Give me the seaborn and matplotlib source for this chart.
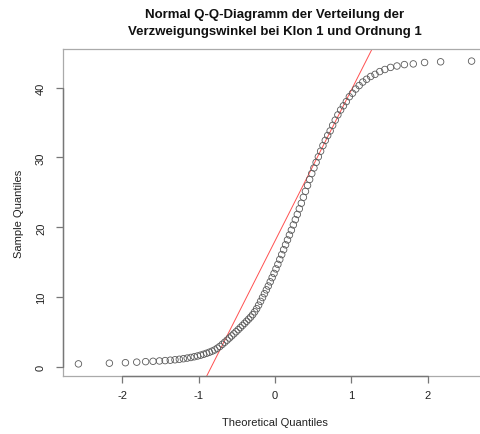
import statistics
import numpy as np
import pandas as pd
import matplotlib
matplotlib.use("Agg")
import matplotlib.pyplot as plt
import seaborn as sns

# ---- data (sample quantiles, sorted) ----
sample_values = [
    0.45, 0.55, 0.62, 0.70, 0.77, 0.82, 0.87, 0.92, 0.98, 1.04,
    1.11, 1.19, 1.28, 1.37, 1.47, 1.58, 1.70, 1.83, 1.97, 2.12,
    2.28, 2.45, 2.70, 2.95, 3.25, 3.55, 3.85, 4.15, 4.45, 4.75,
    5.05, 5.35, 5.65, 5.95, 6.25, 6.55, 6.85, 7.15, 7.50, 7.90,
    8.35, 8.85, 9.40, 9.95, 10.5, 11.05, 11.6, 12.2, 12.8, 13.4,
    14.05, 14.7, 15.4, 16.1, 16.8, 17.5, 18.2, 18.9, 19.6, 20.35,
    21.1, 21.85, 22.65, 23.45, 24.3, 25.15, 26.0, 26.85, 27.7, 28.5,
    29.3, 30.1, 30.9, 31.7, 32.45, 33.15, 33.8, 34.6, 35.35, 36.1,
    36.8, 37.4, 38.0, 38.7, 39.2, 39.8, 40.3, 40.8, 41.2, 41.6,
    41.9, 42.3, 42.6, 42.9, 43.1, 43.3, 43.4, 43.6, 43.7, 43.8,
]
x_ticks = [-2, -1, 0, 1, 2]
y_ticks = [0, 10, 20, 30, 40]
title = "Normal Q-Q-Diagramm der Verteilung der\nVerzweigungswinkel bei Klon 1 und Ordnung 1"
x_label = "Theoretical Quantiles"
y_label = "Sample Quantiles"

# ---- Q-Q computation (like R's qqnorm / qqline) ----
n = len(sample_values)
nd = statistics.NormalDist()
theo = [nd.inv_cdf((i + 0.5) / n) for i in range(n)]
df = pd.DataFrame({"theoretical": theo, "sample": sorted(sample_values)})
q1, q3 = np.quantile(df["sample"], [0.25, 0.75])
z1, z3 = nd.inv_cdf(0.25), nd.inv_cdf(0.75)
slope = (q3 - q1) / (z3 - z1)
intercept = q1 - slope * z1

# ---- plot ----
sns.set_theme(style="white")
plt.rcParams["font.family"] = ["Liberation Sans", "DejaVu Sans"]

fig = plt.figure(figsize=(4.8, 4.35), dpi=100)
ax = fig.add_axes([62.7 / 480, 58 / 435, (487.3 - 62.7) / 480, 327 / 435])

sns.scatterplot(data=df, x="theoretical", y="sample", ax=ax,
                marker="o", s=22, facecolor="none", edgecolor="#5a5a5a",
                linewidth=0.6, zorder=3)

xr = df["theoretical"].max() - df["theoretical"].min()
yr = df["sample"].max() - df["sample"].min()
ax.set_xlim(df["theoretical"].min() - 0.04 * xr, df["theoretical"].max() + 0.04 * xr)
ax.set_ylim(df["sample"].min() - 0.04 * yr, df["sample"].max() + 0.04 * yr)

ax.axline((0, intercept), slope=slope, color="#ff5050", linewidth=0.7, zorder=2)

for sp in ax.spines.values():
    sp.set_color("#aaaaaa")
    sp.set_linewidth(0.9)

# R-style axis lines spanning first to last tick
ax.plot([x_ticks[0], x_ticks[-1]], [ax.get_ylim()[0]] * 2, color="#777777",
        linewidth=1.0, clip_on=False, zorder=4)
ax.plot([ax.get_xlim()[0]] * 2, [y_ticks[0], y_ticks[-1]], color="#777777",
        linewidth=1.0, clip_on=False, zorder=4)

ax.set_xticks(x_ticks)
ax.set_yticks(y_ticks)
ax.set_xticklabels([str(t) for t in x_ticks])
ax.set_yticklabels([str(t) for t in y_ticks], rotation=90, va="center")
ax.tick_params(axis="both", which="major", direction="out", length=5,
               width=0.9, color="#777777", labelsize=8, labelcolor="#222222",
               bottom=True, left=True)
ax.tick_params(axis="x", pad=5)
ax.tick_params(axis="y", pad=7)

ax.set_xlabel(x_label, fontsize=8, color="#222222", labelpad=12)
ax.set_ylabel(y_label, fontsize=8, color="#222222", labelpad=9)
ax.set_title(title, fontsize=9.5, fontweight="bold", color="#111111", pad=11,
             linespacing=1.55)

fig.savefig("out.png", dpi=100)
